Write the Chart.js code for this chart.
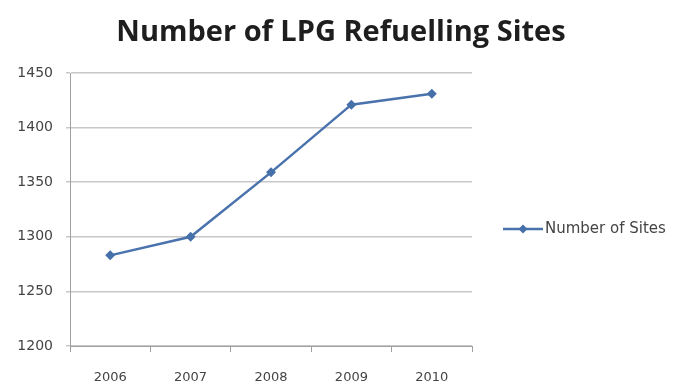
<!DOCTYPE html>
<html>
<head>
<meta charset="utf-8">
<script src="https://cdn.jsdelivr.net/npm/chart.js@4"></script>
<style>
html,body{margin:0;padding:0;background:#fff;}
#wrap{width:673px;height:385px;position:relative;}
</style>
</head>
<body>
<div id="wrap"><canvas id="c"></canvas></div>
<script>
const categories = ['2006', '2007', '2008', '2009', '2010'];
const sites = [1283, 1300, 1359, 1421, 1431];
const seriesName = 'Number of Sites';
const chartTitle = 'Number of LPG Refuelling Sites';
const yMin = 1200, yMax = 1450, yStep = 50;

const lineColor = '#4a73ad';
const markColor = '#4670aa';

const customTitleLegend = {
  id: 'customTitleLegend',
  afterDraw(chart) {
    const ctx = chart.ctx;
    ctx.save();
    // title
    ctx.fillStyle = '#1e1e1e';
    ctx.font = 'bold 29px "Open Sans"';
    ctx.textAlign = 'center';
    ctx.textBaseline = 'middle';
    ctx.fillText(chartTitle, 341, 33);
    // legend
    const y = 229;
    ctx.strokeStyle = lineColor;
    ctx.lineWidth = 2.5;
    ctx.beginPath();
    ctx.moveTo(503, y);
    ctx.lineTo(543, y);
    ctx.stroke();
    ctx.fillStyle = markColor;
    ctx.beginPath();
    ctx.moveTo(523, y - 4.5);
    ctx.lineTo(527.5, y);
    ctx.lineTo(523, y + 4.5);
    ctx.lineTo(518.5, y);
    ctx.closePath();
    ctx.fill();
    ctx.fillStyle = '#444';
    ctx.font = '15px "DejaVu Sans"';
    ctx.textAlign = 'left';
    ctx.fillText(seriesName, 545, y);
    ctx.restore();
  }
};

new Chart(document.getElementById('c'), {
  type: 'line',
  data: {
    labels: categories,
    datasets: [{
      label: seriesName,
      data: sites,
      borderColor: lineColor,
      backgroundColor: markColor,
      borderWidth: 2.5,
      pointStyle: 'rectRot',
      pointRadius: 5,
      pointBorderWidth: 0,
      pointBackgroundColor: markColor,
      tension: 0
    }]
  },
  options: {
    responsive: true,
    maintainAspectRatio: false,
    animation: false,
    devicePixelRatio: 1,
    layout: { padding: { left: 13, right: 201, top: 73, bottom: 0 } },
    plugins: {
      legend: { display: false },
      tooltip: { enabled: false },
      title: { display: false }
    },
    scales: {
      x: {
        offset: true,
        afterFit: (s) => { s.height = 39; },
        grid: { display: true, drawOnChartArea: false, offset: true, tickLength: 6, color: '#a0a0a0' },
        border: { color: '#a0a0a0', width: 1 },
        ticks: { color: '#444', font: { family: 'DejaVu Sans', size: 13 }, padding: 18 }
      },
      y: {
        min: yMin, max: yMax,
        afterFit: (s) => { s.width = 57; },
        ticks: { stepSize: yStep, color: '#444', font: { family: 'DejaVu Sans', size: 14 }, padding: 13,
                 callback: (v) => String(v) },
        grid: { color: '#c8c8c8', tickLength: 4, lineWidth: 1.5 },
        border: { color: '#a0a0a0', width: 1 }
      }
    }
  },
  plugins: [customTitleLegend]
});
</script>
</body>
</html>
